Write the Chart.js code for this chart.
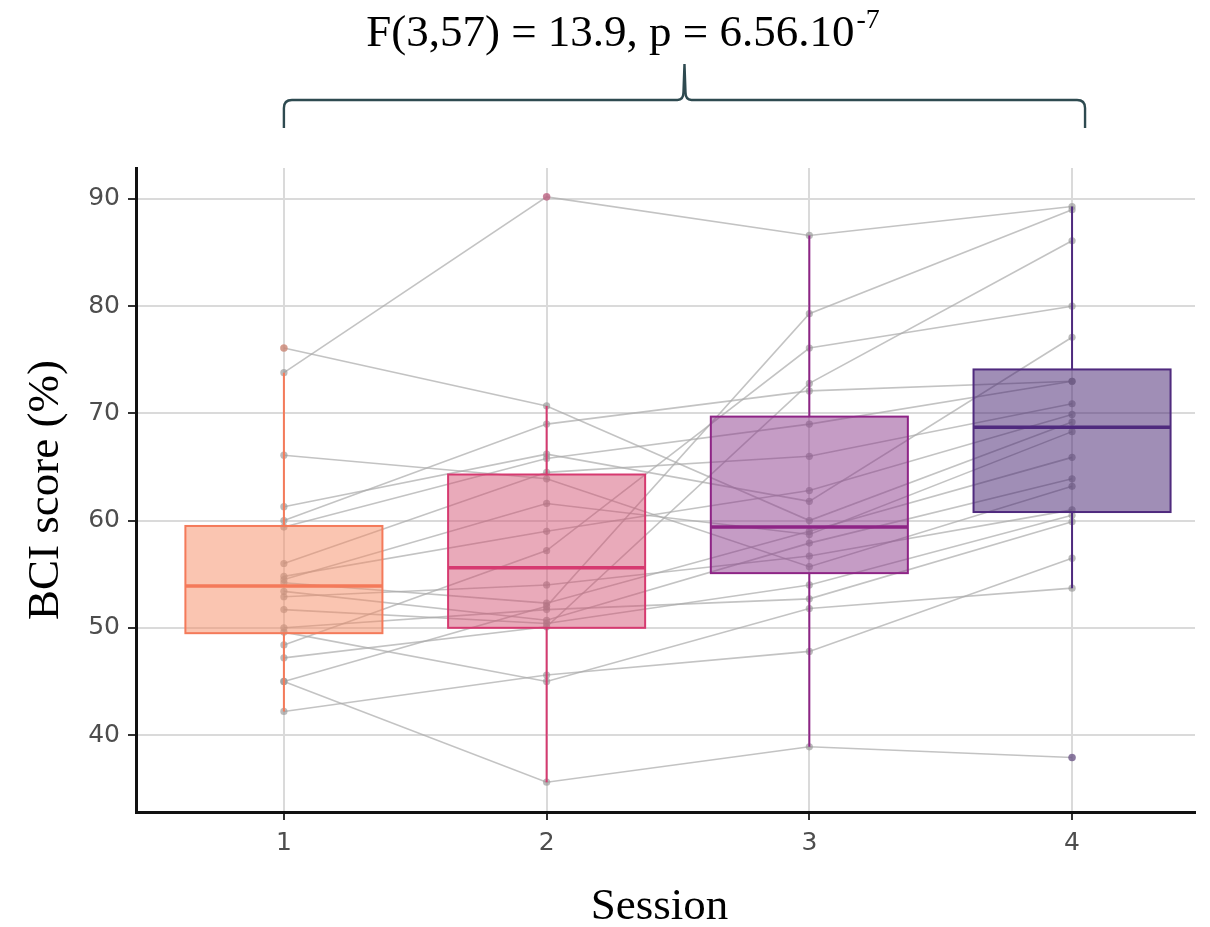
<!DOCTYPE html>
<html>
<head>
<meta charset="utf-8">
<script src="https://cdn.jsdelivr.net/npm/chart.js@4.4.1/dist/chart.umd.min.js"></script>
<style>
  html, body { margin: 0; padding: 0; background: #fff; }
  #wrap { width: 1210px; height: 927px; }
</style>
</head>
<body>
<div id="wrap"><canvas id="c" width="1210" height="927"></canvas></div>
<script>
// one entry per subject, same order in every session
const sessions = [1, 2, 3, 4];
const session1Scores = [73.8, 76.1, 66.1, 42.2, 45.0, 45.0, 47.2, 48.4, 61.3, 60.0, 59.4, 56.0, 54.8, 54.5, 54.2, 53.4, 52.9, 51.7, 50.0, 49.6];
const session2Scores = [90.2, 70.7, 63.9, 45.6, 35.6, 52.0, 50.1, 57.2, 66.2, 69.0, 65.8, 64.5, 59.0, 61.6, 52.3, 50.7, 54.0, 50.4, 51.7, 45.0];
const session3Scores = [86.6, 60.0, 55.7, 47.8, 38.9, 79.3, 72.8, 76.1, 61.8, 72.1, 69.0, 66.0, 62.8, 58.7, 59.0, 57.9, 56.7, 54.0, 52.7, 51.8];
const session4Scores = [89.3, 69.2, 63.2, 56.5, 37.9, 89.0, 86.1, 80.0, 77.1, 73.0, 73.0, 70.9, 69.9, 68.3, 65.9, 63.9, 61.0, 60.5, 59.9, 53.7];

// box plot summary per session
const boxQ1 = [49.5, 50.0, 55.1, 60.8];
const boxMedian = [53.9, 55.6, 59.4, 68.7];
const boxQ3 = [59.5, 64.3, 69.7, 74.1];
const whiskerLow = [42.2, 35.6, 38.9, 53.7];
const whiskerHigh = [73.8, 70.7, 86.6, 89.3];

const yTicks = [40, 50, 60, 70, 80, 90];

const BOX_STROKE = ['#F47A5A', '#D63A70', '#8E2486', '#4F2A7E'];
const BOX_FILL = ['rgba(245,140,100,0.5)', 'rgba(208,78,110,0.48)', 'rgba(140,58,140,0.5)', 'rgba(66,30,110,0.5)'];
const SERIF = '"Liberation Serif", "Times New Roman", serif';

const allScores = [session1Scores, session2Scores, session3Scores, session4Scores];

const subjectSets = session1Scores.map((_, i) => ({
  data: sessions.map((s, k) => ({ x: s, y: allScores[k][i] })),
  borderColor: 'rgba(170,170,170,0.7)',
  borderWidth: 1.6,
  pointRadius: 3.6,
  pointBackgroundColor: 'rgba(150,150,150,0.65)',
  pointBorderWidth: 0,
  tension: 0
}));

const boxPlugin = {
  id: 'boxes',
  afterDatasetsDraw(chart) {
    const ctx = chart.ctx;
    const xs = chart.scales.x, ys = chart.scales.y;
    sessions.forEach((s, k) => {
      const xc = xs.getPixelForValue(s);
      const half = xs.getPixelForValue(s + 0.375) - xc;
      const top = ys.getPixelForValue(boxQ3[k]);
      const bot = ys.getPixelForValue(boxQ1[k]);
      ctx.save();
      ctx.fillStyle = BOX_FILL[k];
      ctx.fillRect(xc - half, top, half * 2, bot - top);
      ctx.strokeStyle = BOX_STROKE[k];
      ctx.lineWidth = 2;
      ctx.strokeRect(xc - half, top, half * 2, bot - top);
      // whiskers
      ctx.beginPath();
      ctx.moveTo(xc, top);
      ctx.lineTo(xc, ys.getPixelForValue(whiskerHigh[k]));
      ctx.moveTo(xc, bot);
      ctx.lineTo(xc, ys.getPixelForValue(whiskerLow[k]));
      ctx.stroke();
      // median
      const ym = ys.getPixelForValue(boxMedian[k]);
      ctx.lineWidth = 3.5;
      ctx.beginPath();
      ctx.moveTo(xc - half, ym);
      ctx.lineTo(xc + half, ym);
      ctx.stroke();
      // outliers
      ctx.globalAlpha = 0.45;
      ctx.fillStyle = BOX_STROKE[k];
      allScores[k].forEach(v => {
        if (v > whiskerHigh[k] || v < whiskerLow[k]) {
          ctx.beginPath();
          ctx.arc(xc, ys.getPixelForValue(v), 3.8, 0, Math.PI * 2);
          ctx.fill();
        }
      });
      ctx.restore();
    });
  }
};

const annotPlugin = {
  id: 'annot',
  afterDraw(chart) {
    const ctx = chart.ctx;
    const xs = chart.scales.x;
    const area = chart.chartArea;
    ctx.save();
    ctx.fillStyle = '#000';

    // stats header with superscript
    const main = 'F(3,57) = 13.9, p = 6.56.10';
    const sup = '-7';
    ctx.font = '45px ' + SERIF;
    const wMain = ctx.measureText(main).width;
    ctx.font = '28px ' + SERIF;
    const wSup = ctx.measureText(sup).width;
    const x0 = 623 - (wMain + wSup + 2) / 2;
    ctx.textBaseline = 'alphabetic';
    ctx.textAlign = 'left';
    ctx.font = '45px ' + SERIF;
    ctx.fillText(main, x0, 46);
    ctx.font = '28px ' + SERIF;
    ctx.fillText(sup, x0 + wMain + 2, 28);

    // curly brace across sessions
    const bl = xs.getPixelForValue(1);
    const br = xs.getPixelForValue(4) + 13;
    const bm = (bl + br) / 2;
    const yb = 100, yEnd = 128, yTip = 64;
    ctx.strokeStyle = '#2E4A50';
    ctx.lineWidth = 2.4;
    ctx.beginPath();
    ctx.moveTo(bl, yEnd);
    ctx.lineTo(bl, yb + 8);
    ctx.quadraticCurveTo(bl, yb, bl + 8, yb);
    ctx.lineTo(bm - 7, yb);
    ctx.quadraticCurveTo(bm - 1, yb, bm - 1, yb - 8);
    ctx.lineTo(bm, yTip);
    ctx.lineTo(bm + 1, yb - 8);
    ctx.quadraticCurveTo(bm + 1, yb, bm + 7, yb);
    ctx.lineTo(br - 8, yb);
    ctx.quadraticCurveTo(br, yb, br, yb + 8);
    ctx.lineTo(br, yEnd);
    ctx.stroke();

    // axis titles
    ctx.fillStyle = '#000';
    ctx.font = '45px ' + SERIF;
    ctx.textAlign = 'center';
    ctx.fillText('Session', (area.left + area.right) / 2 - 6, 919);
    ctx.translate(58, (area.top + area.bottom) / 2);
    ctx.rotate(-Math.PI / 2);
    ctx.fillText('BCI score (%)', 0, 0);
    ctx.restore();
  }
};

const tickFont = { family: '"DejaVu Sans", "Liberation Sans", sans-serif', size: 25 };

new Chart(document.getElementById('c'), {
  type: 'line',
  data: { datasets: subjectSets },
  options: {
    responsive: false,
    animation: false,
    layout: { padding: { top: 168, right: 15, left: 0, bottom: 0 } },
    plugins: { legend: { display: false }, tooltip: { enabled: false } },
    scales: {
      x: {
        type: 'linear',
        min: 0.437,
        max: 4.468,
        afterBuildTicks: s => { s.ticks = sessions.map(v => ({ value: v })); },
        afterFit: s => { s.height = 115; },
        grid: { color: '#dadada', lineWidth: 2, tickColor: '#333', tickLength: 8, tickWidth: 2 },
        border: { color: '#111', width: 3 },
        ticks: { color: '#4d4d4d', font: tickFont, padding: 8 }
      },
      y: {
        min: 32.82,
        max: 92.89,
        afterBuildTicks: s => { s.ticks = yTicks.map(v => ({ value: v })); },
        afterFit: s => { s.width = 136; },
        grid: { color: '#dadada', lineWidth: 2, tickColor: '#333', tickLength: 8, tickWidth: 2 },
        border: { color: '#111', width: 3 },
        ticks: { color: '#4d4d4d', font: tickFont, padding: 8 }
      }
    }
  },
  plugins: [boxPlugin, annotPlugin]
});
</script>
</body>
</html>
